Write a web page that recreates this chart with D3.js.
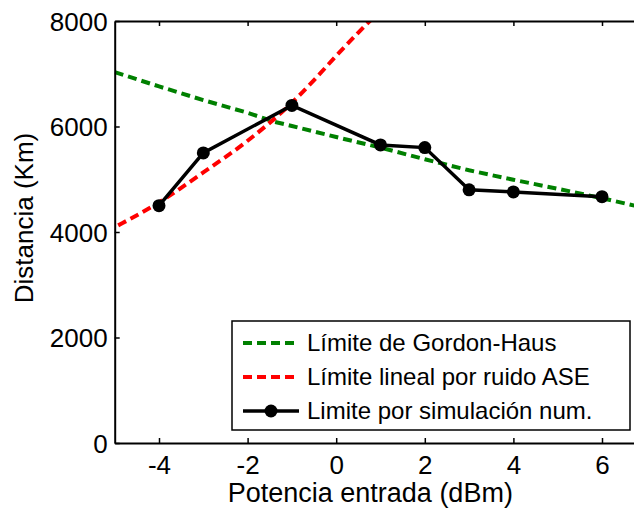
<!DOCTYPE html>
<html>
<head>
<meta charset="utf-8">
<script src="https://cdn.jsdelivr.net/npm/d3@7"></script>
<style>
  body { margin: 0; background: #fff; }
  svg { display: block; font-family: "Liberation Sans", Arial, sans-serif; }
</style>
</head>
<body>
<div id="chart"></div>
<script>
// Gordon-Haus limit (green dashed)
const ghX = [-5, -4, -3, -2, -1.4, -1, 0, 1, 2, 3, 4, 5, 6, 7];
const ghY = [7030, 6760, 6500, 6260, 6090, 6010, 5800, 5600, 5380, 5170, 4990, 4820, 4640, 4450];

// ASE linear noise limit (red dashed)
const aseX = [-5.2, -5, -4, -3, -2, -1, -0.5, 0, 0.5, 1];
const aseY = [4000, 4090, 4560, 5130, 5730, 6450, 6880, 7340, 7780, 8200];

// numerical simulation (black, markers)
const simX = [-4, -3, -1, 1, 2, 3, 4, 6];
const simY = [4500, 5500, 6400, 5650, 5600, 4800, 4760, 4670];

const xTicks = [-4, -2, 0, 2, 4, 6];
const yTicks = [0, 2000, 4000, 6000, 8000];

const legendLabels = [
  "Límite de Gordon-Haus",
  "Límite lineal por ruido ASE",
  "Limite por simulación num."
];

const W = 634, H = 508;
const margin = { top: 21, left: 114.7 };
const plotW = 531.6, plotH = 422;

const svg = d3.select("#chart").append("svg")
  .attr("width", W)
  .attr("height", H);

const g = svg.append("g")
  .attr("transform", `translate(${margin.left},${margin.top})`);

const x = d3.scaleLinear().domain([-5, 7]).range([0, plotW]);
const y = d3.scaleLinear().domain([0, 8000]).range([plotH, 0]);

g.append("clipPath").attr("id", "clip")
  .append("rect").attr("width", plotW).attr("height", plotH);

const line = d3.line()
  .x((d) => x(d[0]))
  .y((d) => y(d[1]));

const plot = g.append("g").attr("clip-path", "url(#clip)");

plot.append("path")
  .datum(d3.zip(ghX, ghY))
  .attr("d", line)
  .attr("fill", "none")
  .attr("stroke", "#008000")
  .attr("stroke-width", 4)
  .attr("stroke-dasharray", "9,5");

plot.append("path")
  .datum(d3.zip(aseX, aseY))
  .attr("d", line.curve(d3.curveMonotoneX))
  .attr("fill", "none")
  .attr("stroke", "#ff0000")
  .attr("stroke-width", 4)
  .attr("stroke-dasharray", "9,5");

line.curve(d3.curveLinear);

plot.append("path")
  .datum(d3.zip(simX, simY))
  .attr("d", line)
  .attr("fill", "none")
  .attr("stroke", "#000")
  .attr("stroke-width", 3.5);

plot.selectAll("circle.pt")
  .data(d3.zip(simX, simY))
  .join("circle")
  .attr("class", "pt")
  .attr("cx", (d) => x(d[0]))
  .attr("cy", (d) => y(d[1]))
  .attr("r", 6.5)
  .attr("fill", "#000");

// plain hyphen minus, no thousands separator
const fmt = (d) => String(d);

// axes with inward ticks
const xAxisB = g.append("g")
  .attr("transform", `translate(0,${plotH})`)
  .call(d3.axisBottom(x).tickValues(xTicks).tickFormat(fmt).tickSizeInner(-5).tickSizeOuter(0).tickPadding(13));
const xAxisT = g.append("g")
  .call(d3.axisTop(x).tickValues(xTicks).tickSizeInner(-5).tickSizeOuter(0).tickFormat(""));
const yAxisL = g.append("g")
  .call(d3.axisLeft(y).tickValues(yTicks).tickFormat(fmt).tickSizeInner(-5).tickSizeOuter(0).tickPadding(7));

[xAxisB, xAxisT, yAxisL].forEach((a) => {
  a.attr("font-family", null).attr("font-size", null);
  a.select(".domain").attr("stroke", "#000").attr("stroke-width", 2);
  a.selectAll(".tick line").attr("stroke", "#000").attr("stroke-width", 1.5);
  a.selectAll(".tick text")
    .attr("fill", "#000")
    .style("font-size", "26px");
});
xAxisB.selectAll(".tick text").attr("dy", "0.71em");
yAxisL.selectAll(".tick text").attr("dy", "0.35em");

// axis labels
g.append("text")
  .attr("x", x(0.77))
  .attr("y", plotH + 59)
  .attr("text-anchor", "middle")
  .style("font-size", "27px")
  .text("Potencia entrada (dBm)");

g.append("text")
  .attr("transform", `translate(${-margin.left + 33},${218 - margin.top}) rotate(-90)`)
  .attr("text-anchor", "middle")
  .style("font-size", "26px")
  .text("Distancia (Km)");

// legend
const leg = svg.append("g").attr("transform", "translate(232,321)");
leg.append("rect")
  .attr("width", 398)
  .attr("height", 109)
  .attr("fill", "#fff")
  .attr("stroke", "#000")
  .attr("stroke-width", 1.5);

const legStyles = [
  { color: "#008000", dash: "9,5", marker: false },
  { color: "#ff0000", dash: "9,5", marker: false },
  { color: "#000", dash: null, marker: true }
];

legendLabels.forEach((lab, i) => {
  const yy = 22 + i * 34;
  const s = legStyles[i];
  leg.append("line")
    .attr("x1", 11).attr("x2", 67)
    .attr("y1", yy).attr("y2", yy)
    .attr("stroke", s.color)
    .attr("stroke-width", s.marker ? 3.5 : 4)
    .attr("stroke-dasharray", s.dash);
  if (s.marker) {
    leg.append("circle").attr("cx", 39).attr("cy", yy).attr("r", 6.5).attr("fill", "#000");
  }
  leg.append("text")
    .attr("x", 75)
    .attr("y", yy)
    .attr("dy", "0.35em")
    .style("font-size", "24px")
    .text(lab);
});
</script>
</body>
</html>
